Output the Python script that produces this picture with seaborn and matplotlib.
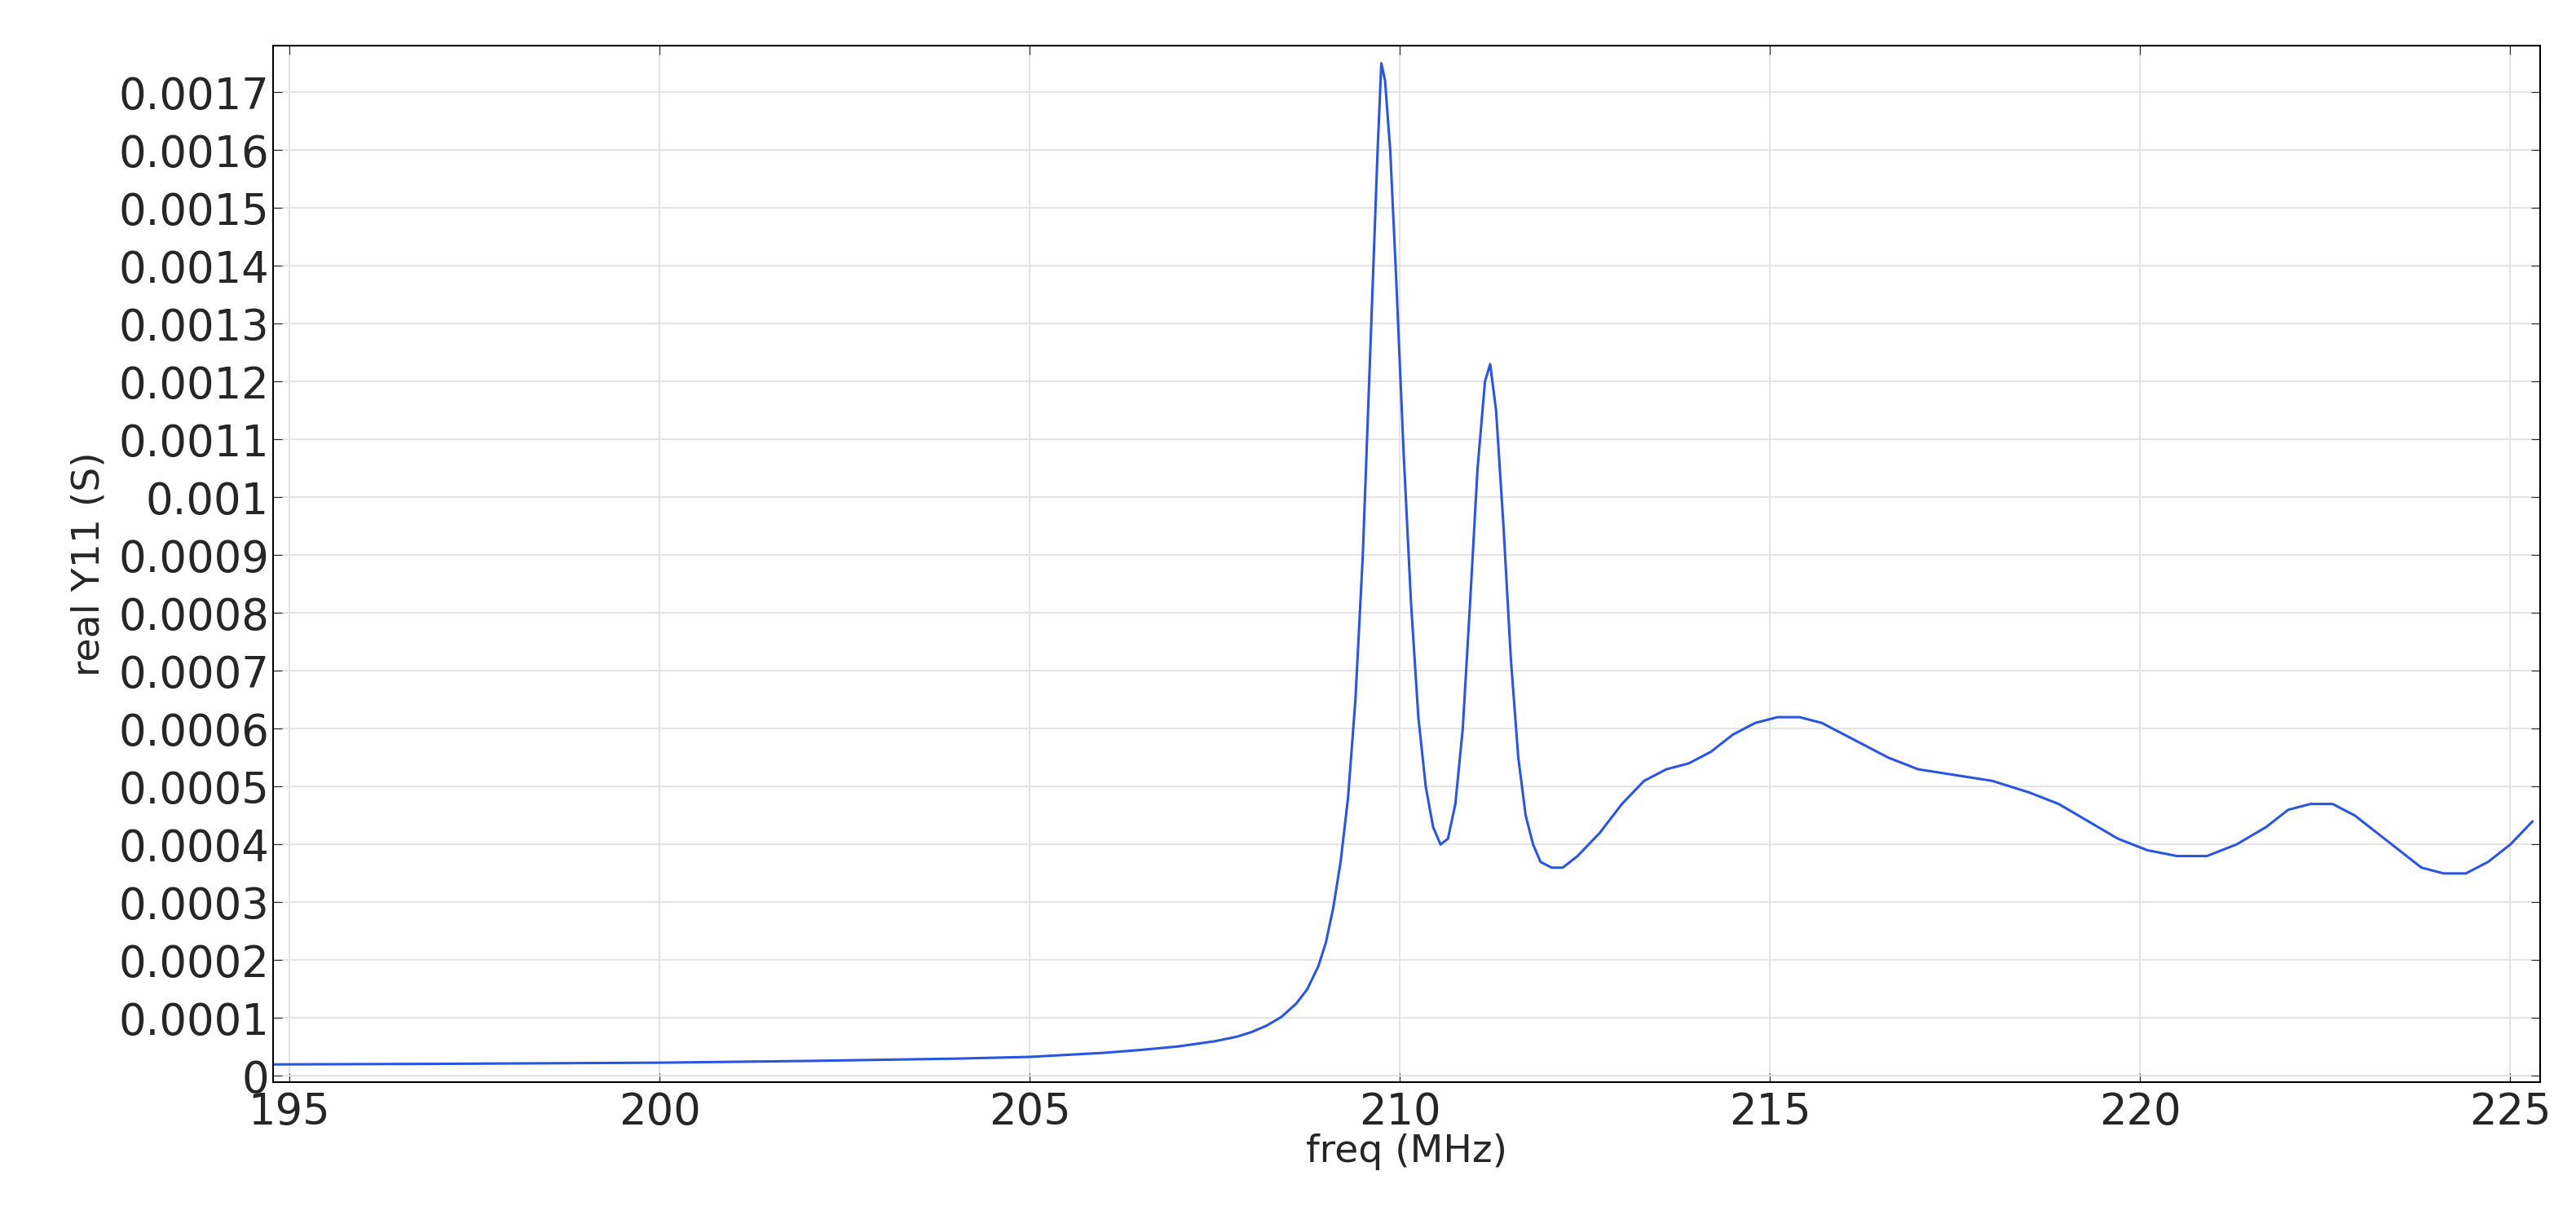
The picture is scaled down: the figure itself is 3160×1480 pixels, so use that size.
import matplotlib
matplotlib.use("Agg")
import matplotlib.pyplot as plt
import matplotlib.ticker as mticker
import seaborn as sns

# 頻率 (MHz) 與 real Y11 (S)
freq = [194.8, 197, 200, 202, 204, 205, 206, 206.5, 207, 207.5, 207.8, 208, 208.2, 208.4,
        208.6, 208.75, 208.9, 209.0, 209.1, 209.2, 209.3, 209.4, 209.5, 209.6, 209.7,
        209.75, 209.8, 209.87, 209.95, 210.05, 210.15, 210.25, 210.35, 210.45, 210.55,
        210.65, 210.75, 210.85, 210.95, 211.05, 211.15, 211.22, 211.3, 211.4, 211.5,
        211.6, 211.7, 211.8, 211.9, 212.05, 212.2, 212.4, 212.7, 213.0, 213.3, 213.6,
        213.9, 214.2, 214.5, 214.8, 215.1, 215.4, 215.7, 216.0, 216.3, 216.6, 217.0,
        217.5, 218.0, 218.5, 218.9, 219.3, 219.7, 220.1, 220.5, 220.9, 221.3, 221.7,
        222.0, 222.3, 222.6, 222.9, 223.2, 223.5, 223.8, 224.1, 224.4, 224.7, 225.0, 225.3]
y11 = [0.000020, 0.000021, 0.000023, 0.000026, 0.000030, 0.000033, 0.000040, 0.000045,
       0.000051, 0.000060, 0.000068, 0.000076, 0.000087, 0.000102, 0.000125, 0.000150,
       0.000190, 0.000230, 0.000290, 0.000370, 0.000480, 0.000650, 0.000900, 0.00125,
       0.00160, 0.00175, 0.00172, 0.00160, 0.00138, 0.00108, 0.00082, 0.00062, 0.00050,
       0.00043, 0.00040, 0.00041, 0.00047, 0.00060, 0.00082, 0.00105, 0.00120, 0.00123,
       0.00115, 0.00095, 0.00072, 0.00055, 0.00045, 0.00040, 0.00037, 0.00036, 0.00036,
       0.00038, 0.00042, 0.00047, 0.00051, 0.00053, 0.00054, 0.00056, 0.00059, 0.00061,
       0.00062, 0.00062, 0.00061, 0.00059, 0.00057, 0.00055, 0.00053, 0.00052, 0.00051,
       0.00049, 0.00047, 0.00044, 0.00041, 0.00039, 0.00038, 0.00038, 0.00040, 0.00043,
       0.00046, 0.00047, 0.00047, 0.00045, 0.00042, 0.00039, 0.00036, 0.00035, 0.00035,
       0.00037, 0.00040, 0.00044]

sns.set_style("whitegrid")
plt.rcParams['font.family'] = ['DejaVu Sans']

fig = plt.figure(figsize=(31.6, 14.8), dpi=100)
ax = fig.add_axes([0.106, 0.103, 0.880, 0.859])
sns.lineplot(x=freq, y=y11, ax=ax, color="#2a55e0", linewidth=2.2)

ax.set_xlim(194.78, 225.4)
ax.set_ylim(-0.00001, 0.00178)
ax.set_xticks([195, 200, 205, 210, 215, 220, 225])
ax.set_yticks([i * 0.0001 for i in range(18)])
ax.yaxis.set_major_formatter(mticker.FuncFormatter(lambda v, p: "0" if abs(v) < 1e-12 else f"{v:.4f}".rstrip("0")))
ax.tick_params(labelsize=38, direction="in", length=8, left=True, bottom=True, top=True, right=True)
ax.tick_params(axis="x", pad=8)
ax.grid(color="#e4e4e4", linewidth=1.5)
for s in ax.spines.values():
    s.set_color("black")
    s.set_linewidth(1.5)
ax.set_xlabel("freq (MHz)", fontsize=34, labelpad=0)
ax.set_ylabel("real Y11 (S)", fontsize=34, labelpad=10)

fig.savefig("out.png", dpi=100)
